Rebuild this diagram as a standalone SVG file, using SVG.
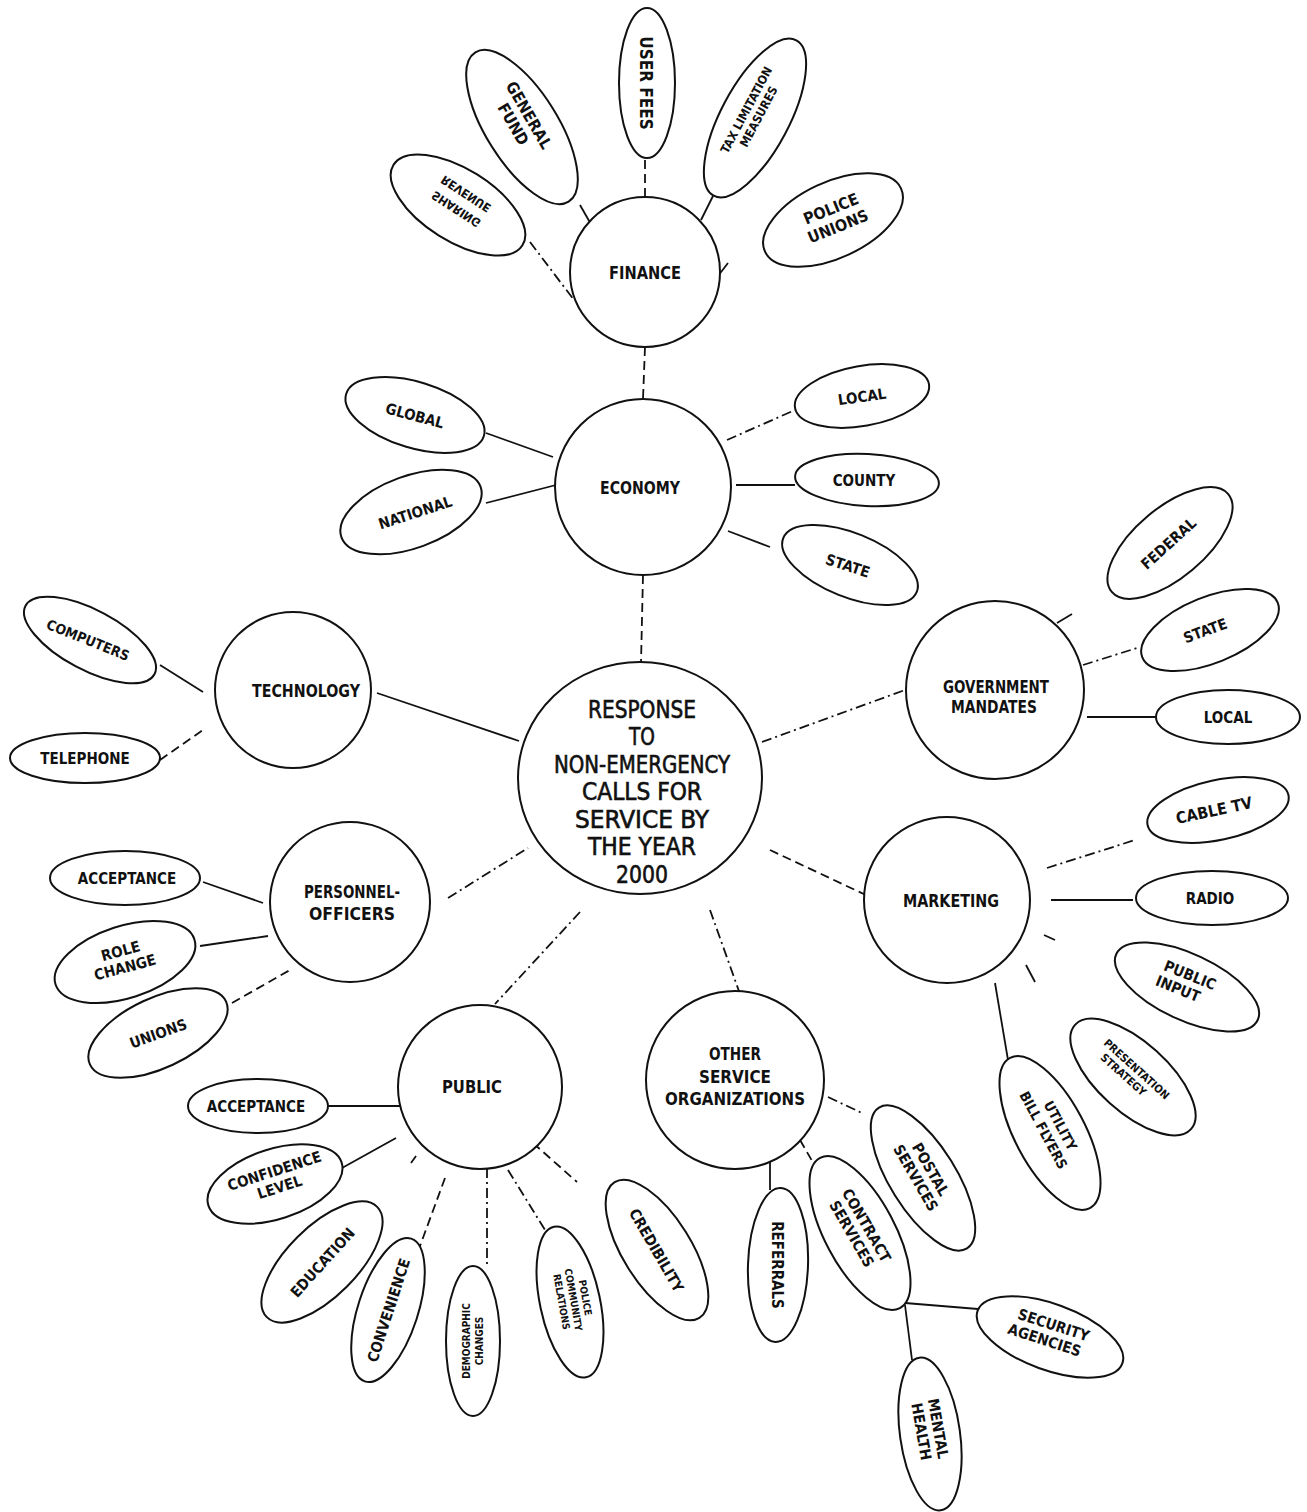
<svg xmlns="http://www.w3.org/2000/svg" width="1307" height="1512" viewBox="0 0 1307 1512">
<style>
.n{fill:#fff;stroke:#111;stroke-width:2}
.e{fill:#fff;stroke:#111;stroke-width:2}
.l{stroke:#111;stroke-width:1.8;fill:none}
.d{stroke-dasharray:9 5}
.dd{stroke-dasharray:10 4 2 4}
.t{font-family:"DejaVu Sans Condensed","DejaVu Sans",sans-serif;font-weight:bold;text-anchor:middle;fill:#111}
.c{font-family:"DejaVu Sans Condensed","DejaVu Sans",sans-serif;font-weight:normal;text-anchor:middle;fill:#111;stroke:#111;stroke-width:0.6;font-size:24px}
</style>
<rect width="1307" height="1512" fill="#fff"/>
<g id="connectors">
<line class="l dd" x1="530" y1="242" x2="574" y2="300"/>
<line class="l" x1="580" y1="205" x2="592" y2="226"/>
<line class="l d" x1="645" y1="160" x2="645" y2="198"/>
<line class="l" x1="713" y1="196" x2="701" y2="220"/>
<line class="l" x1="718" y1="276" x2="728" y2="263"/>
<line class="l d" x1="645" y1="347" x2="643" y2="399"/>
<line class="l" x1="486" y1="433" x2="553" y2="457"/>
<line class="l" x1="486" y1="503" x2="556" y2="485"/>
<line class="l dd" x1="727" y1="440" x2="795" y2="410"/>
<line class="l" x1="736" y1="485" x2="795" y2="485"/>
<line class="l" x1="728" y1="531" x2="770" y2="547"/>
<line class="l d" x1="643" y1="575" x2="641" y2="663"/>
<line class="l" x1="160" y1="665" x2="203" y2="692"/>
<line class="l d" x1="160" y1="760" x2="203" y2="730"/>
<line class="l" x1="377" y1="693" x2="519" y2="741"/>
<line class="l dd" x1="762" y1="742" x2="905" y2="690"/>
<line class="l" x1="1057" y1="623" x2="1072" y2="614"/>
<line class="l dd" x1="1083" y1="665" x2="1137" y2="648"/>
<line class="l" x1="1087" y1="717" x2="1157" y2="717"/>
<line class="l d" x1="770" y1="850" x2="868" y2="896"/>
<line class="l dd" x1="1047" y1="868" x2="1135" y2="840"/>
<line class="l" x1="1051" y1="900" x2="1133" y2="900"/>
<line class="l" x1="1044" y1="935" x2="1055" y2="940"/>
<line class="l" x1="1026" y1="965" x2="1035" y2="982"/>
<line class="l" x1="995" y1="983" x2="1008" y2="1060"/>
<line class="l dd" x1="448" y1="898" x2="528" y2="848"/>
<line class="l" x1="203" y1="882" x2="263" y2="903"/>
<line class="l" x1="200" y1="946" x2="268" y2="936"/>
<line class="l d" x1="232" y1="1003" x2="290" y2="970"/>
<line class="l dd" x1="580" y1="912" x2="495" y2="1004"/>
<line class="l" x1="322" y1="1106" x2="400" y2="1106"/>
<line class="l" x1="342" y1="1168" x2="396" y2="1138"/>
<line class="l d" x1="411" y1="1163" x2="416" y2="1156"/>
<line class="l d" x1="445" y1="1178" x2="420" y2="1246"/>
<line class="l dd" x1="487" y1="1168" x2="487" y2="1267"/>
<line class="l dd" x1="508" y1="1170" x2="545" y2="1230"/>
<line class="l d" x1="533" y1="1143" x2="577" y2="1182"/>
<line class="l dd" x1="710" y1="910" x2="740" y2="994"/>
<line class="l" x1="770" y1="1160" x2="770" y2="1190"/>
<line class="l d" x1="800" y1="1140" x2="815" y2="1166"/>
<line class="l dd" x1="828" y1="1097" x2="864" y2="1114"/>
<line class="l" x1="905" y1="1303" x2="978" y2="1309"/>
<line class="l" x1="905" y1="1305" x2="912" y2="1360"/>
</g>
<g id="central"><ellipse class="n" cx="640" cy="778" rx="122" ry="116"/>
<text class="c" x="642" y="718" textLength="108" lengthAdjust="spacingAndGlyphs">RESPONSE</text>
<text class="c" x="642" y="745" textLength="26" lengthAdjust="spacingAndGlyphs">TO</text>
<text class="c" x="642" y="773" textLength="176" lengthAdjust="spacingAndGlyphs">NON-EMERGENCY</text>
<text class="c" x="642" y="800" textLength="120" lengthAdjust="spacingAndGlyphs">CALLS FOR</text>
<text class="c" x="642" y="828" textLength="134" lengthAdjust="spacingAndGlyphs">SERVICE BY</text>
<text class="c" x="642" y="855" textLength="108" lengthAdjust="spacingAndGlyphs">THE YEAR</text>
<text class="c" x="642" y="883" textLength="52" lengthAdjust="spacingAndGlyphs">2000</text></g>
<g id="finance"><circle class="n" cx="645" cy="272" r="75"/><text class="t" x="645" y="279" font-size="17" textLength="72" lengthAdjust="spacingAndGlyphs">FINANCE</text></g>
<g id="economy"><circle class="n" cx="643" cy="487" r="88"/><text class="t" x="640" y="494" font-size="17" textLength="80" lengthAdjust="spacingAndGlyphs">ECONOMY</text></g>
<g id="technology"><circle class="n" cx="293" cy="690" r="78"/><text class="t" x="306" y="697" font-size="17" textLength="108" lengthAdjust="spacingAndGlyphs">TECHNOLOGY</text></g>
<g id="government"><circle class="n" cx="995" cy="690" r="89"/><text class="t" x="996" y="693" font-size="17" textLength="106" lengthAdjust="spacingAndGlyphs">GOVERNMENT</text><text class="t" x="994" y="713" font-size="17" textLength="86" lengthAdjust="spacingAndGlyphs">MANDATES</text></g>
<g id="marketing"><circle class="n" cx="947" cy="900" r="83"/><text class="t" x="951" y="907" font-size="17" textLength="96" lengthAdjust="spacingAndGlyphs">MARKETING</text></g>
<g id="personnel"><circle class="n" cx="350" cy="902" r="80"/><text class="t" x="352" y="898" font-size="17" textLength="96" lengthAdjust="spacingAndGlyphs">PERSONNEL-</text><text class="t" x="352" y="920" font-size="17" textLength="86" lengthAdjust="spacingAndGlyphs">OFFICERS</text></g>
<g id="public"><circle class="n" cx="480" cy="1087" r="82"/><text class="t" x="472" y="1093" font-size="17" textLength="60" lengthAdjust="spacingAndGlyphs">PUBLIC</text></g>
<g id="other"><circle class="n" cx="735" cy="1080" r="89"/><text class="t" x="735" y="1060" font-size="17" textLength="52" lengthAdjust="spacingAndGlyphs">OTHER</text><text class="t" x="735" y="1083" font-size="17" textLength="72" lengthAdjust="spacingAndGlyphs">SERVICE</text><text class="t" x="735" y="1105" font-size="17" textLength="140" lengthAdjust="spacingAndGlyphs">ORGANIZATIONS</text></g>

<g id="revenue-sharing"><ellipse class="e" cx="458" cy="205" rx="76" ry="36" transform="rotate(32 458 205)"/><g transform="translate(460 203) rotate(33) scale(1 -1)"><text class="t" x="0" y="15" font-size="12">REVENUE</text><text class="t" x="0" y="-3" font-size="12">SHARING</text></g></g>
<g id="general-fund"><ellipse class="e" cx="522" cy="127" rx="88" ry="36" transform="rotate(58 522 127)"/><g transform="translate(524 118) rotate(60)"><text class="t" x="0" y="0" font-size="16">GENERAL</text><text class="t" x="0" y="18" font-size="16">FUND</text></g></g>
<g id="user-fees"><ellipse class="e" cx="647" cy="83" rx="28" ry="75"/><g transform="translate(640 83) rotate(90)"><text class="t" x="0" y="0" font-size="17">USER FEES</text></g></g>
<g id="tax-limitation"><ellipse class="e" cx="755" cy="118" rx="88" ry="34" transform="rotate(-62 755 118)"/><g transform="translate(750 112) rotate(-62)"><text class="t" x="0" y="0" font-size="12">TAX LIMITATION</text><text class="t" x="0" y="14" font-size="12">MEASURES</text></g></g>
<g id="police-unions"><ellipse class="e" cx="833" cy="220" rx="75" ry="38" transform="rotate(-25 833 220)"/><g transform="translate(833 214) rotate(-22)"><text class="t" x="0" y="0" font-size="16">POLICE</text><text class="t" x="0" y="19" font-size="16">UNIONS</text></g></g>

<g id="global"><ellipse class="e" cx="415" cy="415" rx="72" ry="33" transform="rotate(17 415 415)"/><text class="t" x="415" y="421" font-size="15" transform="rotate(15 415 415)">GLOBAL</text></g>
<g id="national"><ellipse class="e" cx="411" cy="512" rx="74" ry="36" transform="rotate(-20 411 512)"/><text class="t" x="415" y="518" font-size="15" transform="rotate(-18 415 512)">NATIONAL</text></g>
<g id="local-econ"><ellipse class="e" cx="862" cy="396" rx="68" ry="30" transform="rotate(-10 862 396)"/><text class="t" x="862" y="402" font-size="15" transform="rotate(-8 862 396)">LOCAL</text></g>
<g id="county"><ellipse class="e" cx="867" cy="480" rx="72" ry="26" transform="rotate(3 867 480)"/><text class="t" x="864" y="486" font-size="15">COUNTY</text></g>
<g id="state-econ"><ellipse class="e" cx="850" cy="565" rx="72" ry="32" transform="rotate(22 850 565)"/><text class="t" x="848" y="571" font-size="15" transform="rotate(18 848 565)">STATE</text></g>

<g id="computers"><ellipse class="e" cx="90" cy="640" rx="73" ry="30" transform="rotate(28 90 640)"/><text class="t" x="88" y="645" font-size="14" transform="rotate(22 88 640)">COMPUTERS</text></g>
<g id="telephone"><ellipse class="e" cx="85" cy="758" rx="75" ry="25"/><text class="t" x="85" y="764" font-size="15">TELEPHONE</text></g>

<g id="federal"><ellipse class="e" cx="1170" cy="543" rx="76" ry="35" transform="rotate(-40 1170 543)"/><text class="t" x="1168" y="549" font-size="15" transform="rotate(-42 1168 543)">FEDERAL</text></g>
<g id="state-gov"><ellipse class="e" cx="1210" cy="630" rx="73" ry="33" transform="rotate(-22 1210 630)"/><text class="t" x="1205" y="636" font-size="15" transform="rotate(-20 1205 630)">STATE</text></g>
<g id="local-gov"><ellipse class="e" cx="1228" cy="717" rx="72" ry="27"/><text class="t" x="1228" y="723" font-size="15">LOCAL</text></g>

<g id="cable-tv"><ellipse class="e" cx="1218" cy="810" rx="72" ry="30" transform="rotate(-12 1218 810)"/><text class="t" x="1214" y="816" font-size="16" transform="rotate(-12 1214 810)">CABLE TV</text></g>
<g id="radio"><ellipse class="e" cx="1212" cy="898" rx="76" ry="27"/><text class="t" x="1210" y="904" font-size="15">RADIO</text></g>
<g id="public-input"><ellipse class="e" cx="1187" cy="987" rx="78" ry="33" transform="rotate(25 1187 987)"/><g transform="translate(1188 980) rotate(22)"><text class="t" x="0" y="0" font-size="15">PUBLIC</text><text class="t" x="-6" y="17" font-size="15">INPUT</text></g></g>
<g id="presentation"><ellipse class="e" cx="1133" cy="1077" rx="78" ry="35" transform="rotate(42 1133 1077)"/><g transform="translate(1134 1072) rotate(42)"><text class="t" x="0" y="0" font-size="11">PRESENTATION</text><text class="t" x="-6" y="13" font-size="11">STRATEGY</text></g></g>
<g id="utility"><ellipse class="e" cx="1050" cy="1133" rx="85" ry="35" transform="rotate(62 1050 1133)"/><g transform="translate(1056 1128) rotate(62)"><text class="t" x="0" y="0" font-size="14">UTILITY</text><text class="t" x="-4" y="17" font-size="14">BILL FLYERS</text></g></g>

<g id="acceptance-pers"><ellipse class="e" cx="125" cy="878" rx="75" ry="27"/><text class="t" x="127" y="884" font-size="15">ACCEPTANCE</text></g>
<g id="role-change"><ellipse class="e" cx="125" cy="962" rx="73" ry="36" transform="rotate(-18 125 962)"/><g transform="translate(122 956) rotate(-15)"><text class="t" x="0" y="0" font-size="15">ROLE</text><text class="t" x="0" y="17" font-size="15">CHANGE</text></g></g>
<g id="unions"><ellipse class="e" cx="158" cy="1033" rx="75" ry="35" transform="rotate(-25 158 1033)"/><text class="t" x="158" y="1039" font-size="15" transform="rotate(-20 158 1033)">UNIONS</text></g>

<g id="acceptance-pub"><ellipse class="e" cx="258" cy="1106" rx="70" ry="27"/><text class="t" x="256" y="1112" font-size="15">ACCEPTANCE</text></g>
<g id="confidence"><ellipse class="e" cx="275" cy="1184" rx="70" ry="35" transform="rotate(-18 275 1184)"/><g transform="translate(276 1176) rotate(-18)"><text class="t" x="0" y="0" font-size="15">CONFIDENCE</text><text class="t" x="0" y="17" font-size="15">LEVEL</text></g></g>
<g id="education"><ellipse class="e" cx="322" cy="1262" rx="78" ry="35" transform="rotate(-45 322 1262)"/><text class="t" x="322" y="1268" font-size="15" transform="rotate(-48 322 1262)">EDUCATION</text></g>
<g id="convenience"><ellipse class="e" cx="388" cy="1310" rx="75" ry="30" transform="rotate(-72 388 1310)"/><text class="t" x="388" y="1316" font-size="15" transform="rotate(-72 388 1310)">CONVENIENCE</text></g>
<g id="demographic"><ellipse class="e" cx="473" cy="1341" rx="27" ry="75"/><g transform="translate(473 1341) rotate(-90)"><text class="t" x="0" y="-3" font-size="10">DEMOGRAPHIC</text><text class="t" x="0" y="10" font-size="10">CHANGES</text></g></g>
<g id="police-community"><ellipse class="e" cx="570" cy="1302" rx="77" ry="30" transform="rotate(78 570 1302)"/><g transform="translate(572 1300) rotate(80)"><text class="t" x="0" y="-10" font-size="10">POLICE</text><text class="t" x="0" y="2" font-size="10">COMMUNITY</text><text class="t" x="0" y="14" font-size="10">RELATIONS</text></g></g>
<g id="credibility"><ellipse class="e" cx="657" cy="1250" rx="80" ry="34" transform="rotate(58 657 1250)"/><text class="t" x="657" y="1256" font-size="15" transform="rotate(60 657 1250)">CREDIBILITY</text></g>

<g id="referrals"><ellipse class="e" cx="778" cy="1265" rx="77" ry="30" transform="rotate(92 778 1265)"/><text class="t" x="778" y="1271" font-size="15" transform="rotate(90 778 1265)">REFERRALS</text></g>
<g id="contract"><ellipse class="e" cx="860" cy="1233" rx="85" ry="35" transform="rotate(62 860 1233)"/><g transform="translate(862 1228) rotate(60)"><text class="t" x="0" y="0" font-size="15">CONTRACT</text><text class="t" x="0" y="17" font-size="15">SERVICES</text></g></g>
<g id="postal"><ellipse class="e" cx="923" cy="1178" rx="83" ry="33" transform="rotate(58 923 1178)"/><g transform="translate(926 1172) rotate(60)"><text class="t" x="0" y="0" font-size="15">POSTAL</text><text class="t" x="0" y="17" font-size="15">SERVICES</text></g></g>
<g id="security"><ellipse class="e" cx="1050" cy="1337" rx="77" ry="33" transform="rotate(20 1050 1337)"/><g transform="translate(1052 1330) rotate(18)"><text class="t" x="0" y="0" font-size="15">SECURITY</text><text class="t" x="-4" y="17" font-size="15">AGENCIES</text></g></g>
<g id="mental-health"><ellipse class="e" cx="930" cy="1434" rx="77" ry="30" transform="rotate(82 930 1434)"/><g transform="translate(930 1430) rotate(80)"><text class="t" x="0" y="-3" font-size="15">MENTAL</text><text class="t" x="0" y="14" font-size="15">HEALTH</text></g></g>
</svg>
